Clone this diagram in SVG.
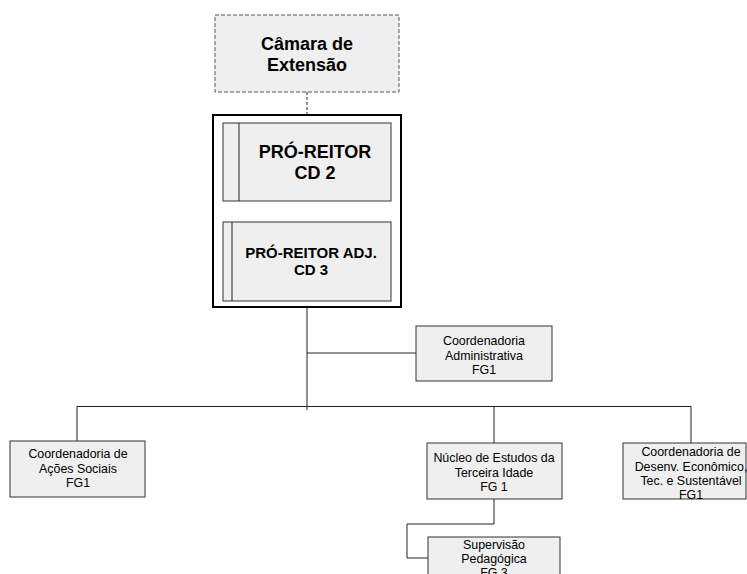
<svg xmlns="http://www.w3.org/2000/svg" width="747" height="574" viewBox="0 0 747 574">
<style>
.box{fill:#efefef;stroke:#333;stroke-width:1}
.ln{fill:none;stroke:#222;stroke-width:1}
.t{font-family:"Liberation Sans",Arial,sans-serif;font-size:12.4px;fill:#000;text-anchor:middle}
.b{font-family:"Liberation Sans",Arial,sans-serif;font-weight:bold;fill:#000;text-anchor:middle}
</style>
<rect width="747" height="574" fill="#fff"/>
<g id="connectors">
<line class="ln" x1="307" y1="92" x2="307" y2="115" stroke-dasharray="3,2" stroke="#555"/>
<line class="ln" x1="307" y1="201" x2="307" y2="222" stroke="#555"/>
<line class="ln" x1="307" y1="307" x2="307" y2="410" stroke="#555"/>
<line class="ln" x1="307" y1="353" x2="416" y2="353"/>
<polyline class="ln" points="77,441 77,406.5 691,406.5 691,443"/>
<line class="ln" x1="494" y1="406.5" x2="494" y2="443"/>
<polyline class="ln" points="494,499 494,524 407,524 407,558 428,558"/>
</g>
<g id="camara">
<rect x="215" y="15" width="184" height="77" fill="#efefef" stroke="#555" stroke-dasharray="4,2"/>
<text class="b" font-size="18" x="307" y="50">Câmara de</text>
<text class="b" font-size="18" x="307" y="71">Extensão</text>
</g>
<g id="reitoria">
<rect x="213" y="115" width="188" height="192" fill="#fff" stroke="#000" stroke-width="2"/>
</g>
<g id="pro-reitor">
<rect class="box" x="223" y="123" width="168" height="78"/>
<line class="ln" x1="239" y1="123" x2="239" y2="201"/>
<text class="b" font-size="18" x="315" y="158">PRÓ-REITOR</text>
<text class="b" font-size="18" x="315" y="179">CD 2</text>
</g>
<g id="pro-reitor-adj">
<rect class="box" x="223" y="222" width="168" height="79"/>
<line class="ln" x1="232" y1="222" x2="232" y2="301"/>
<text class="b" font-size="15" x="311" y="258">PRÓ-REITOR ADJ.</text>
<text class="b" font-size="15" x="311" y="275">CD 3</text>
</g>
<g id="coord-adm">
<rect class="box" x="416" y="326" width="136" height="55"/>
<text class="t" x="484" y="345">Coordenadoria</text>
<text class="t" x="484" y="360">Administrativa</text>
<text class="t" x="484" y="374">FG1</text>
</g>
<g id="coord-acoes">
<rect class="box" x="10" y="441" width="135" height="56"/>
<text class="t" x="78" y="458">Coordenadoria de</text>
<text class="t" x="78" y="473">Ações Sociais</text>
<text class="t" x="78" y="487">FG1</text>
</g>
<g id="nucleo">
<rect class="box" x="427" y="443" width="135" height="56"/>
<text class="t" x="494" y="462">Núcleo de Estudos da</text>
<text class="t" x="494" y="477">Terceira Idade</text>
<text class="t" x="494" y="491">FG 1</text>
</g>
<g id="supervisao">
<rect class="box" x="428" y="537" width="132" height="50"/>
<text class="t" x="494" y="549">Supervisão</text>
<text class="t" x="494" y="563">Pedagógica</text>
<text class="t" x="494" y="577">FG 3</text>
</g>
<g id="coord-desenv">
<rect class="box" x="623" y="443" width="123" height="56"/>
<text class="t" x="691" y="456">Coordenadoria de</text>
<text class="t" x="691" y="471">Desenv. Econômico,</text>
<text class="t" x="691" y="485">Tec. e Sustentável</text>
<text class="t" x="691" y="499">FG1</text>
</g>
</svg>
